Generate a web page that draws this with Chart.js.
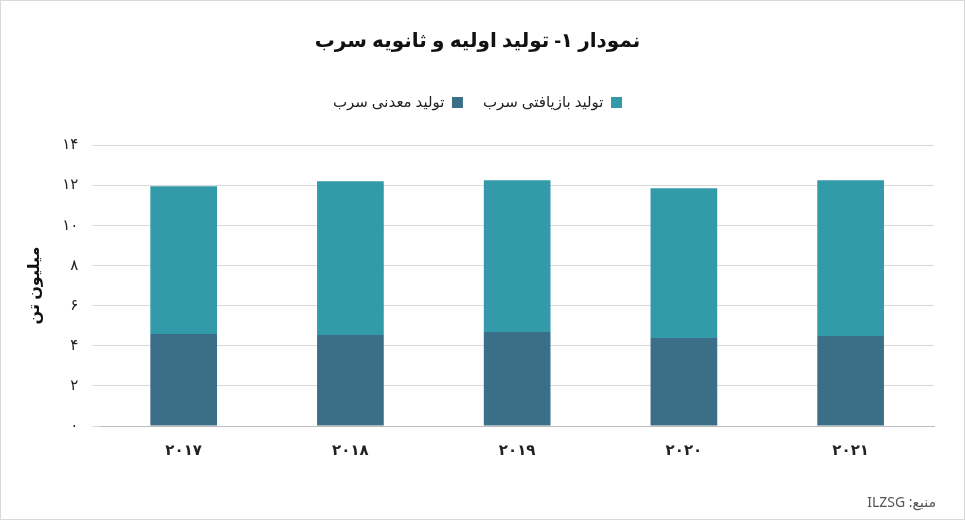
<!DOCTYPE html>
<html><head><meta charset="utf-8">
<script src="https://cdn.jsdelivr.net/npm/chart.js@4"></script>
<style>
html,body{margin:0;padding:0;background:#fff;}
#wrap{position:relative;width:963px;height:518px;border:1px solid #d9d9d9;}
#src{position:absolute;right:28px;bottom:8px;font:14px "Noto Sans","DejaVu Sans";color:#555;direction:rtl;}
</style></head><body>
<div id="wrap"><canvas id="c" width="963" height="518"></canvas><div id="src">منبع: ILZSG</div></div>
<script>
const categories = ['۲۰۱۷','۲۰۱۸','۲۰۱۹','۲۰۲۰','۲۰۲۱'];
const mineValues = [4.58, 4.53, 4.68, 4.38, 4.48];
const recycleValues = [7.36, 7.66, 7.56, 7.46, 7.76];
const tickLabels = ['۰','۲','۴','۶','۸','۱۰','۱۲','۱۴'];
const font = '"Noto Sans","DejaVu Sans"';
const legendGap = {
  id: 'legendGap',
  beforeUpdate(chart) {
    const lg = chart.legend;
    if (lg && !lg._patched) {
      const orig = lg.fit;
      lg.fit = function () { orig.call(this); this.height += 25; };
      lg._patched = true;
    }
  }
};
new Chart(document.getElementById('c'), {
  type: 'bar',
  data: { labels: categories, datasets: [
    { label: 'تولید معدنی سرب', data: mineValues, backgroundColor: '#3b6e87', barPercentage: 0.4, categoryPercentage: 1 },
    { label: 'تولید بازیافتی سرب', data: recycleValues, backgroundColor: '#329aa8', barPercentage: 0.4, categoryPercentage: 1 }
  ]},
  plugins: [legendGap],
  options: {
    responsive: false, animation: false,
    layout: { padding: { left: 20, right: 30, bottom: 51, top: 10 } },
    plugins: {
      title: { display: true, text: 'نمودار ۱- تولید اولیه و ثانویه سرب', font: { family: font, size: 20, weight: 'bold' }, color: '#111', padding: { top: 18, bottom: 22 } },
      legend: { rtl: true, reverse: true, labels: { boxWidth: 11, boxHeight: 11, font: { family: font, size: 15 }, color: '#222', padding: 20 } },
      tooltip: { enabled: false }
    },
    scales: {
      x: { stacked: true, grid: { display: false }, border: { color: '#bbb' }, ticks: { font: { family: font, size: 15, weight: 'bold' }, color: '#222', padding: 8 } },
      y: { stacked: true, min: 0, max: 14, border: { display: false }, grid: { color: '#d9d9d9' },
        ticks: { stepSize: 2, font: { family: font, size: 15 }, color: '#222', padding: 14, callback: (v) => tickLabels[v / 2] },
        title: { display: true, text: 'میلیون تن', font: { family: font, size: 16, weight: 'bold' }, color: '#111' } }
    }
  }
});
</script></body></html>
